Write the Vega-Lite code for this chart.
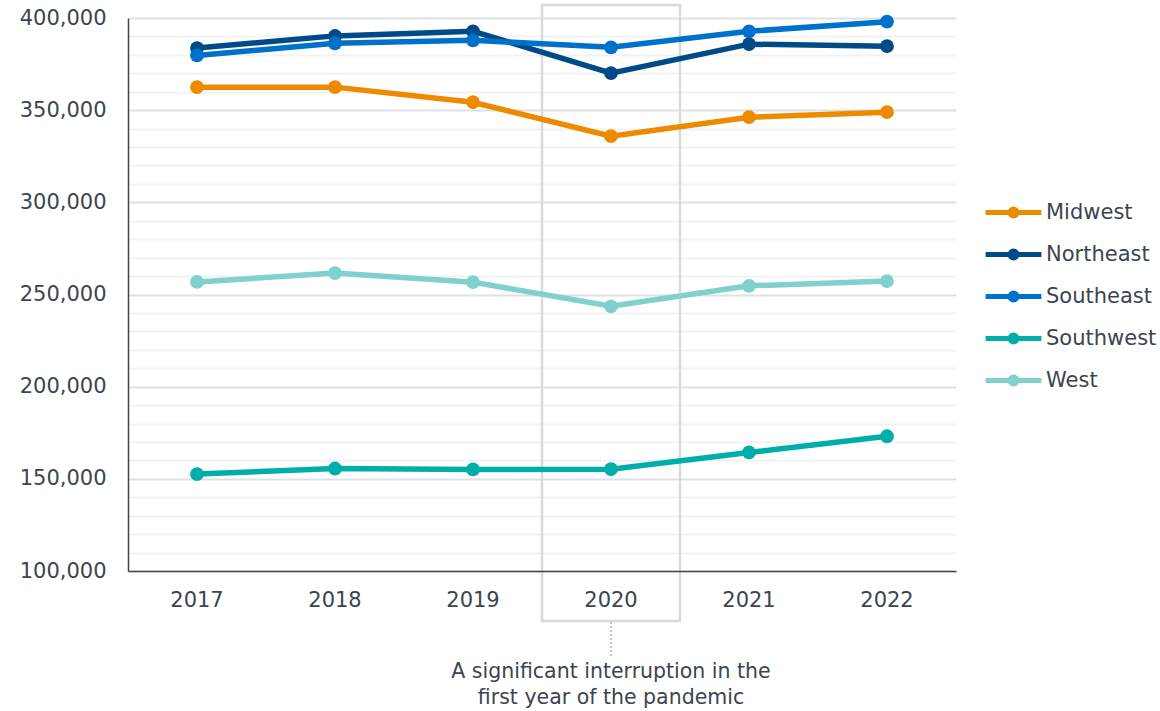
{
  "$schema": "https://vega.github.io/schema/vega-lite/v6.json",
  "autosize": "none",
  "width": 828,
  "height": 553,
  "padding": {"left": 128, "top": 18, "right": 204, "bottom": 140},
  "background": "white",
  "config": {
    "view": {"stroke": null},
    "font": "DejaVu Sans",
    "axis": {"labelFont": "DejaVu Sans", "labelFontSize": 21, "labelColor": "#3b4550", "ticks": false, "title": null, "domainColor": "#3d4752", "domainWidth": 1.5}
  },
  "data": {"values": [
    {"year": "2017", "region": "Midwest", "value": 362500},
    {"year": "2018", "region": "Midwest", "value": 362500},
    {"year": "2019", "region": "Midwest", "value": 354300},
    {"year": "2020", "region": "Midwest", "value": 335900},
    {"year": "2021", "region": "Midwest", "value": 346200},
    {"year": "2022", "region": "Midwest", "value": 348900},
    {"year": "2017", "region": "Northeast", "value": 383700},
    {"year": "2018", "region": "Northeast", "value": 390300},
    {"year": "2019", "region": "Northeast", "value": 392800},
    {"year": "2020", "region": "Northeast", "value": 370100},
    {"year": "2021", "region": "Northeast", "value": 385800},
    {"year": "2022", "region": "Northeast", "value": 384700},
    {"year": "2017", "region": "Southeast", "value": 379700},
    {"year": "2018", "region": "Southeast", "value": 386300},
    {"year": "2019", "region": "Southeast", "value": 387900},
    {"year": "2020", "region": "Southeast", "value": 384100},
    {"year": "2021", "region": "Southeast", "value": 392800},
    {"year": "2022", "region": "Southeast", "value": 398000},
    {"year": "2017", "region": "Southwest", "value": 152600},
    {"year": "2018", "region": "Southwest", "value": 155600},
    {"year": "2019", "region": "Southwest", "value": 155100},
    {"year": "2020", "region": "Southwest", "value": 155200},
    {"year": "2021", "region": "Southwest", "value": 164300},
    {"year": "2022", "region": "Southwest", "value": 173100},
    {"year": "2017", "region": "West", "value": 256800},
    {"year": "2018", "region": "West", "value": 261600},
    {"year": "2019", "region": "West", "value": 256700},
    {"year": "2020", "region": "West", "value": 243600},
    {"year": "2021", "region": "West", "value": 254700},
    {"year": "2022", "region": "West", "value": 257300}
  ]},
  "encoding": {
    "x": {"field": "year", "type": "ordinal", "scale": {"type": "band", "paddingInner": 0, "paddingOuter": 0},
      "axis": {"labelAngle": 0, "labelPadding": 18, "grid": false}}
  },
  "layer": [
    {
      "data": {"values": [{"year": "2020", "lo": 72900, "hi": 407000}]},
      "mark": {"type": "rect", "fill": null, "stroke": "#d9d9d9", "strokeWidth": 2.5},
      "encoding": {
        "y": {"field": "lo", "type": "quantitative",
          "scale": {"domain": [100000, 400000], "nice": false, "zero": false},
          "axis": {
            "values": [100000,110000,120000,130000,140000,150000,160000,170000,180000,190000,200000,210000,220000,230000,240000,250000,260000,270000,280000,290000,300000,310000,320000,330000,340000,350000,360000,370000,380000,390000,400000],
            "tickCount": 100,
            "labelExpr": "datum.value % 50000 === 0 ? datum.label : ''",
            "labelOverlap": false,
            "labelPadding": 22,
            "grid": true,
            "gridColor": {"condition": {"test": "datum.value % 50000 === 0", "value": "#dde1e6"}, "value": "#f1f2f4"},
            "gridWidth": 2
          }},
        "y2": {"field": "hi"}
      }
    },
    {
      "data": {"values": [{"year": "2020", "lo": 72300, "hi": 53300}]},
      "mark": {"type": "rule", "stroke": "#c4c4c4", "strokeWidth": 2, "strokeDash": [2, 2]},
      "encoding": {
        "y": {"field": "lo", "type": "quantitative"},
        "y2": {"field": "hi"}
      }
    },
    {
      "data": {"values": [{"year": "2020", "note": "A significant interruption in the\nfirst year of the pandemic"}]},
      "mark": {"type": "text", "fontSize": 20.5, "color": "#3b4550", "align": "center", "baseline": "middle", "lineBreak": "\n", "lineHeight": 26, "font": "DejaVu Sans"},
      "encoding": {
        "y": {"datum": 45200, "type": "quantitative"},
        "text": {"field": "note"}
      }
    },
    {
      "mark": {"type": "line", "strokeWidth": 5.5},
      "encoding": {
        "y": {"field": "value", "type": "quantitative"},
        "color": {"field": "region", "type": "nominal",
          "scale": {"domain": ["Midwest", "Northeast", "Southeast", "Southwest", "West"],
                    "range": ["#ee8a00", "#004a87", "#0071cb", "#00aea9", "#80d0cd"]},
          "legend": {
            "title": null, "orient": "none", "legendX": 865, "legendY": 174,
            "labelFont": "DejaVu Sans", "labelFontSize": 21, "labelColor": "#3b4550",
            "symbolType": "M-1.55,0L1.55,0M-0.19,0A0.19,0.19 0 1,1 0.19,0A0.19,0.19 0 1,1 -0.19,0Z",
            "symbolSize": 1296, "symbolStrokeWidth": 5, "labelOffset": 12, "rowPadding": 8,
            "encode": {"symbols": {"update": {"fill": {"scale": "color", "field": "value"}, "stroke": {"scale": "color", "field": "value"}, "opacity": {"value": 1}}}}
          }}
      }
    },
    {
      "mark": {"type": "point", "filled": true, "opacity": 1, "size": 190},
      "encoding": {
        "y": {"field": "value", "type": "quantitative"},
        "color": {"field": "region", "type": "nominal"}
      }
    }
  ]
}
